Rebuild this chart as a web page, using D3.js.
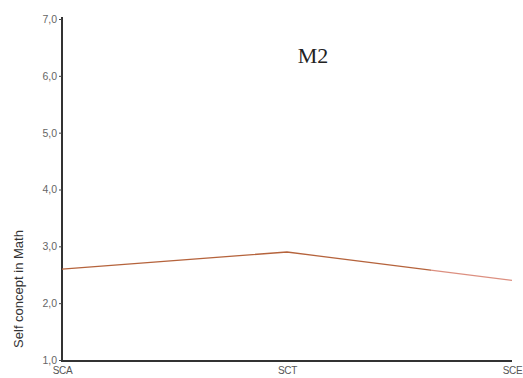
<!DOCTYPE html>
<html><head><meta charset="utf-8">
<script src="https://cdn.jsdelivr.net/npm/d3@7"></script>
<style>body{margin:0;background:#fff}svg{display:block}</style>
</head><body>
<script>
const categories = ["SCA", "SCT", "SCE"];
const values = [2.6, 2.9, 2.4];
const yTicks = [1, 2, 3, 4, 5, 6, 7];
const title = "M2";
const yLabel = "Self concept in Math";

const W = 523, H = 378;
const svg = d3.select("body").append("svg").attr("width", W).attr("height", H);
const x = d3.scalePoint().domain(categories).range([62, 512]);
const y = d3.scaleLinear().domain([1, 7]).range([360, 19]);

const defs = svg.append("defs");
const g = defs.append("linearGradient").attr("id", "lg").attr("gradientUnits", "userSpaceOnUse")
  .attr("x1", 62).attr("x2", 512).attr("y1", 0).attr("y2", 0);
g.append("stop").attr("offset", "82%").attr("stop-color", "#b5633c");
g.append("stop").attr("offset", "82%").attr("stop-color", "#dc8f80");

const ya = svg.append("g").attr("transform", "translate(62,0)")
  .call(d3.axisLeft(y).tickValues(yTicks).tickSize(3).tickFormat(d => d3.format(".1f")(d).replace(".", ",")));
ya.select(".domain").attr("stroke", "#333").attr("stroke-width", 2).attr("d", "M0,17V361");
ya.selectAll(".tick line").attr("stroke", "#444");
ya.selectAll(".tick text").attr("fill", "#666").attr("font-family", "Arial, Liberation Sans, sans-serif").attr("font-size", 10.5).attr("x", -5);

const xa = svg.append("g").attr("transform", "translate(0,361)")
  .call(d3.axisBottom(x).tickSize(0).tickPadding(6));
xa.select(".domain").attr("stroke", "#333").attr("stroke-width", 2).attr("d", "M61,0H512");
xa.selectAll(".tick text").attr("fill", "#555").attr("font-family", "Arial, Liberation Sans, sans-serif").attr("font-size", 10).attr("letter-spacing", -0.4);

svg.append("path").datum(values)
  .attr("fill", "none").attr("stroke", "url(#lg)").attr("stroke-width", 1.3)
  .attr("d", d3.line().x((d, i) => x(categories[i])).y(d => y(d)));

svg.append("text").attr("x", 313).attr("y", 63).attr("text-anchor", "middle")
  .attr("font-family", "Liberation Serif, Times New Roman, serif").attr("font-size", 22).attr("fill", "#222").text(title);

svg.append("text").attr("transform", "translate(23,289) rotate(-90)").attr("text-anchor", "middle")
  .attr("font-family", "Arial, Liberation Sans, sans-serif").attr("font-size", 13).attr("fill", "#333").text(yLabel);
</script>
</body></html>
